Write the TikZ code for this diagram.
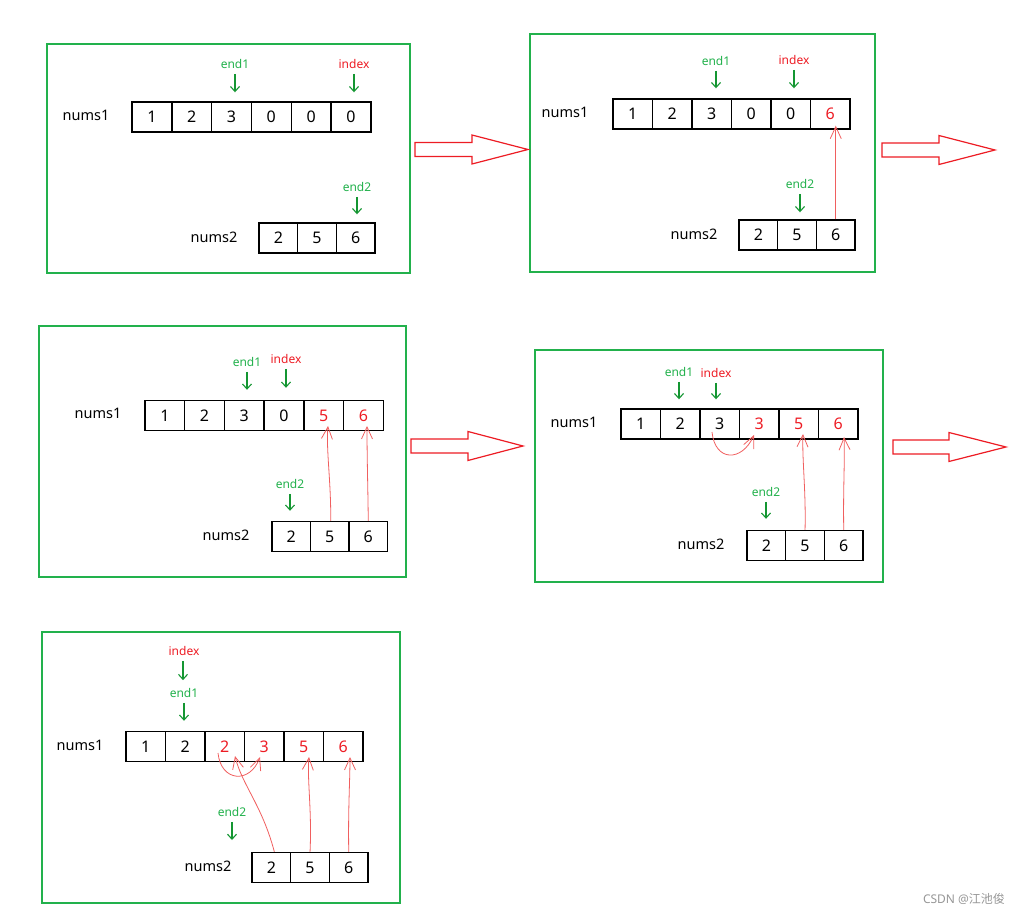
\documentclass[tikz,border=0pt]{standalone}
\usepackage{fontspec}
\setmainfont{Noto Sans}
\newfontfamily\cjk{Noto Sans CJK SC}
\usetikzlibrary{arrows.meta}
\definecolor{pgreen}{RGB}{34,177,76}
\definecolor{pgreenD}{RGB}{20,150,50}
\definecolor{pred}{RGB}{237,28,36}
\definecolor{hred}{RGB}{240,95,95}
\definecolor{wm}{RGB}{150,150,150}
\newcommand\redv[1]{\textcolor{pred}{#1}}
\tikzset{
  frame/.style={draw=pgreen, line width=1.3pt},
  cell/.style={draw=black, line width=1.4pt, minimum height=30pt, inner sep=0pt, font=\fontsize{16}{16}\selectfont},
  arrlab/.style={font=\fontsize{14.5}{15}\selectfont, inner sep=0pt},
  ptrlab/.style={font=\fontsize{12}{12}\selectfont, inner sep=0pt, text=pgreen},
  idxlab/.style={font=\fontsize{12}{12}\selectfont, inner sep=0pt, text=pred},
  ptr/.style={draw=pgreenD, line width=1.1pt, -{Straight Barb[length=5pt,width=9pt,line width=1.1pt]}},
  hand/.style={draw=hred, line width=0.8pt, -{Straight Barb[length=12pt,width=11pt,line width=0.8pt]}},
  block/.style={draw=pred, line width=1.2pt, fill=white},
}
% name, x left, y center, cell width, values
\newcommand\mkarr[5]{%
  \foreach \v [count=\i] in {#5} {%
    \node[cell, minimum width=#4pt] (#1-\i) at ({#2+(\i-0.5)*#4},#3) {\v};
  }%
}
\newcommand\blockarr[4]{%
  \draw[block] (#1,#4-7) -- (#2,#4-7) -- (#2,#4-14.5) -- (#3,#4) -- (#2,#4+14.5) -- (#2,#4+7) -- (#1,#4+7) -- cycle;
}
\begin{document}
\begin{tikzpicture}[x=1pt,y=-1pt]
\useasboundingbox (0,0) rectangle (1029,917);

% ---------------- Panel 1 ----------------
\draw[frame] (47,44) rectangle (410,273);
\node[arrlab] (p1n1) at (86,115) {nums1};
\mkarr{p1a}{132}{117}{39.8}{1,2,3,0,0,0}
\node[ptrlab] (p1e1) at (235,64) {end1};
\node[idxlab] (p1i) at (354,64) {index};
\draw[ptr, shorten <=5pt, shorten >=9pt] (p1e1.south) -- (p1e1.south |- p1a-3.north);
\draw[ptr, shorten <=5pt, shorten >=9pt] (p1i.south) -- (p1i.south |- p1a-6.north);
\node[arrlab] (p1n2) at (214,237) {nums2};
\mkarr{p1b}{259}{238}{38.7}{2,5,6}
\node[ptrlab] (p1e2) at (357,187) {end2};
\draw[ptr, shorten <=5pt, shorten >=8pt] (p1e2.south) -- (p1e2.south |- p1b-3.north);

% ---------------- Panel 2 ----------------
\draw[frame] (530,34) rectangle (875,272);
\node[arrlab] (p2n1) at (565,112) {nums1};
\mkarr{p2a}{613}{114}{39.5}{1,2,3,0,0,\redv{6}}
\node[ptrlab] (p2e1) at (716,61) {end1};
\node[idxlab] (p2i) at (794,60) {index};
\draw[ptr, shorten <=5pt, shorten >=10pt] (p2e1.south) -- (p2e1.south |- p2a-3.north);
\draw[ptr, shorten <=5pt, shorten >=10pt] (p2i.south) -- (p2i.south |- p2a-5.north);
\node[arrlab] (p2n2) at (694,234) {nums2};
\mkarr{p2b}{739}{235}{38.7}{2,5,6}
\node[ptrlab] (p2e2) at (800,184) {end2};
\draw[ptr, shorten <=5pt, shorten >=7pt] (p2e2.south) -- (p2e2.south |- p2b-2.north);
\draw[hand] (p2b-3.north) -- ([yshift=4pt]p2b-3.north |- p2a-6.south);

% ---------------- Panel 3 ----------------
\draw[frame] (39,326) rectangle (406,577);
\node[arrlab] (p3n1) at (98,413) {nums1};
\mkarr{p3a}{145}{415.5}{39.7}{1,2,3,0,\redv{5},\redv{6}}
\node[ptrlab] (p3e1) at (247,362) {end1};
\node[idxlab] (p3i) at (286,359) {index};
\draw[ptr, shorten <=5pt, shorten >=10pt] (p3e1.south) -- (p3e1.south |- p3a-3.north);
\draw[ptr, shorten <=5pt, shorten >=12pt] (p3i.south) -- (p3i.south |- p3a-4.north);
\node[arrlab] (p3n2) at (226,535) {nums2};
\mkarr{p3b}{272}{536.5}{38.5}{2,5,6}
\node[ptrlab] (p3e2) at (290,484) {end2};
\draw[ptr, shorten <=5pt, shorten >=10pt] (p3e2.south) -- (p3e2.south |- p3b-1.north);
\coordinate (t31) at (328,426);
\coordinate (t32) at (367,426);
\draw[hand] ([xshift=1pt]p3b-2.north) .. controls (331,480) and (326,450) .. (t31);
\draw[hand] (p3b-3.north) .. controls (368,490) and (367,460) .. (t32);

% ---------------- Panel 4 ----------------
\draw[frame] (535,350) rectangle (883,582);
\node[arrlab] (p4n1) at (574,422) {nums1};
\mkarr{p4a}{621}{424}{39.5}{1,2,3,\redv{3},\redv{5},\redv{6}}
\node[ptrlab] (p4e1) at (679,372) {end1};
\node[idxlab] (p4i) at (716,373) {index};
\draw[ptr, shorten <=5pt, shorten >=9pt] (p4e1.south) -- (p4e1.south |- p4a-2.north);
\draw[ptr, shorten <=5pt, shorten >=9pt] (p4i.south) -- (p4i.south |- p4a-3.north);
\node[arrlab] (p4n2) at (701,544) {nums2};
\mkarr{p4b}{747}{545.5}{38.7}{2,5,6}
\node[ptrlab] (p4e2) at (766,492) {end2};
\draw[ptr, shorten <=5pt, shorten >=11pt] (p4e2.south) -- (p4e2.south |- p4b-1.north);
\coordinate (s41) at (712,432);
\coordinate (t41) at (754,435);
\coordinate (t42) at (803,434);
\coordinate (t43) at (844,437);
\draw[hand] (s41) .. controls (715,462) and (742,462) .. (t41);
\draw[hand] (p4b-2.north) .. controls (806,490) and (802,460) .. (t42);
\draw[hand] (p4b-3.north) .. controls (843,490) and (845,460) .. (t43);

% ---------------- Panel 5 ----------------
\draw[frame] (42,632) rectangle (400,903);
\node[arrlab] (p5n1) at (80,745) {nums1};
\mkarr{p5a}{126}{746.5}{39.5}{1,2,\redv{2},\redv{3},\redv{5},\redv{6}}
\node[idxlab] (p5i) at (184,651) {index};
\node[ptrlab] (p5e1) at (184,693) {end1};
\draw[ptr, shorten <=5pt, shorten >=8pt] ([xshift=-1pt]p5i.south) -- ([xshift=-1pt]p5i.south |- p5e1.north);
\draw[ptr, shorten <=5pt, shorten >=10pt] (p5e1.south) -- (p5e1.south |- p5a-2.north);
\node[arrlab] (p5n2) at (208,866) {nums2};
\mkarr{p5b}{252}{867.5}{38.7}{2,5,6}
\node[ptrlab] (p5e2) at (232,812) {end2};
\coordinate (p5e2t) at (232,840);
\draw[ptr, shorten <=5pt] (p5e2.south) -- (p5e2t);
\coordinate (s51) at (218,753);
\coordinate (t51) at (260,757);
\coordinate (t52) at (235,756);
\coordinate (t53) at (309,757);
\coordinate (t54) at (350,757);
\draw[hand] (s51) .. controls (221,782) and (250,784) .. (t51);
\draw[hand] ([xshift=3pt]p5b-1.north) .. controls (262,805) and (242,785) .. (t52);
\draw[hand] (p5b-2.north) .. controls (312,810) and (307,780) .. (t53);
\draw[hand] (p5b-3.north) .. controls (348,810) and (350,780) .. (t54);

% ---------------- block arrows ----------------
\blockarr{415}{472}{528}{149.5}
\blockarr{882}{939}{995}{150}
\blockarr{411}{468}{523}{446}
\blockarr{893}{949}{1006}{447}

% watermark
\node[text=wm, font=\fontsize{12}{12}\selectfont, inner sep=0pt] (wmark) at (964,899) {CSDN @{\cjk 江池俊}};
\end{tikzpicture}
\end{document}
